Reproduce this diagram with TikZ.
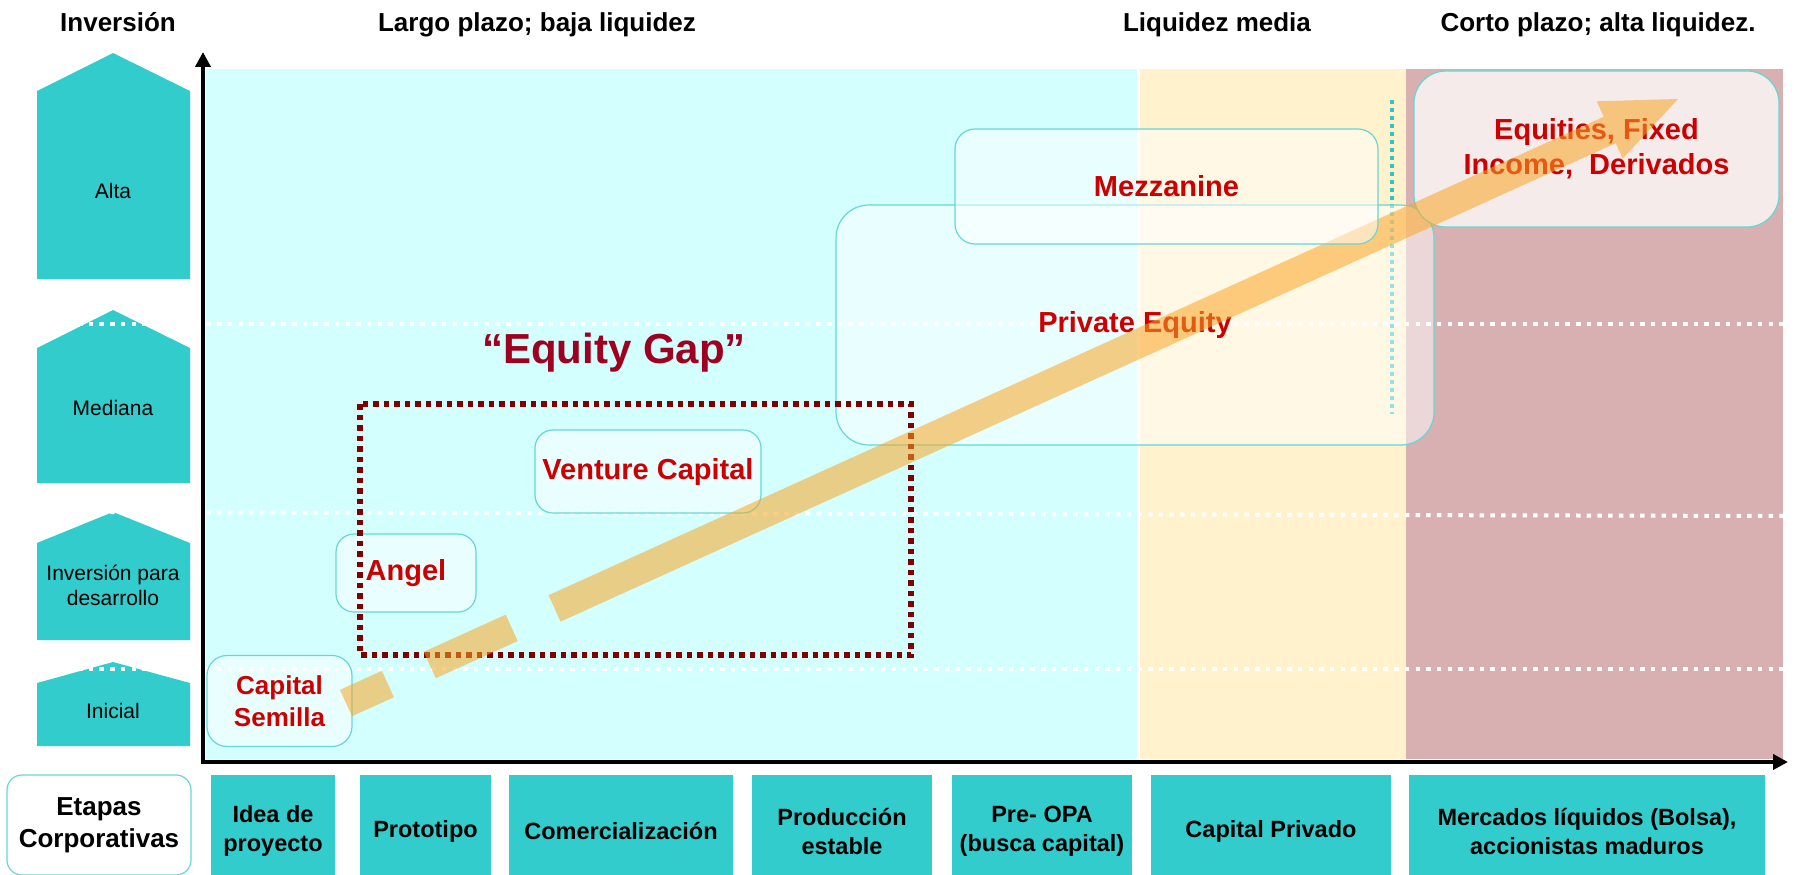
\documentclass[tikz,border=0pt]{standalone}
\usepackage{fontspec}
\setmainfont{Liberation Sans}
\usetikzlibrary{arrows.meta,calc}
\definecolor{ltcyan}{RGB}{212,255,255}
\definecolor{ltyellow}{RGB}{255,242,204}
\definecolor{ltrose}{RGB}{216,176,178}
\definecolor{stageteal}{RGB}{51,204,204}
\definecolor{dotteal}{RGB}{40,200,200}
\definecolor{boxline}{RGB}{102,214,214}
\definecolor{fundred}{RGB}{204,0,0}
\definecolor{gapred}{RGB}{160,0,32}
\definecolor{gapline}{RGB}{128,0,0}
\definecolor{floworange}{RGB}{250,165,35}

\begin{document}
\begin{tikzpicture}[x=1pt,y=-1pt,
  header/.style={font=\bfseries\fontsize{26}{30}\selectfont,anchor=base},
  level/.style={font=\fontsize{21}{25}\selectfont,align=center},
  stage/.style={fill=stageteal,align=center,inner sep=0pt,minimum height=112pt,
    font=\bfseries\fontsize{23.5}{29}\selectfont},
  fund/.style={draw=boxline,line width=1.2pt,fill=white,fill opacity=0.5,
    text opacity=1,text=fundred,align=center,inner sep=0pt,
    font=\bfseries\fontsize{29}{35}\selectfont},
  grid line/.style={draw=white,line width=4pt,dash pattern=on 4.5pt off 6.2pt},
  axis/.style={line width=4pt,-{Triangle[length=15pt,width=15pt]}},
  flow/.style={draw=floworange,opacity=0.55,line width=29pt,
    dash pattern=on 46pt off 46pt on 90pt off 47pt on 3000pt}
]
\useasboundingbox (0,0) rectangle (1794,875);

% liquidity bands
\fill[ltcyan] (206,69) rectangle (1137,759);
\fill[ltyellow] (1140,69) rectangle (1406,759);
\fill[ltrose] (1406,69) rectangle (1783,759);

% investment levels
\foreach \apex/\shoulder/\bottom in {53/91/279,310/348/483,512/543/640,662/683/746}
  \fill[stageteal] (113,\apex) -- (190,\shoulder) -- (190,\bottom) -- (37,\bottom)
    -- (37,\shoulder) -- cycle;
\node[level] (alta) at (113,191) {Alta};
\node[level] (mediana) at (113,408) {Mediana};
\node[level] (desarrollo) at (113,585) {Inversión para\\desarrollo};
\node[level] (inicial) at (113,711) {Inicial};

\draw[grid line] (78,324) -- (1794,324);
\draw[grid line] (78,512) -- (1794,516);
\draw[grid line] (78,669) -- (1794,669);
\draw[dotteal,line width=4.5pt,dash pattern=on 4pt off 4pt] (1392,100) -- (1392,414);

% headers
\node[header] (inversion) at (118,32) {Inversión};
\node[header] (largo) at (537,32) {Largo plazo; baja liquidez};
\node[header] (media) at (1217,32) {Liquidez media};
\node[header] (corto) at (1598,32) {Corto plazo; alta liquidez.};

% axes
\coordinate (origin) at (203,762);
\coordinate (ytop) at (203,52);
\coordinate (xend) at (1788,762);
\draw[axis] ([yshift=-2pt]origin) -- (ytop);
\draw[axis] ([xshift=-2pt]origin) -- (xend);

% funding sources
\node[fund,rounded corners=20pt,minimum width=145pt,minimum height=91pt,
  font=\bfseries\fontsize{26}{32}\selectfont] (seed) at (279.5,701) {Capital\\Semilla};
\node[fund,rounded corners=18pt,minimum width=140pt,minimum height=78pt] (angel) at (406,573) {Angel};
\node[fund,rounded corners=18pt,minimum width=226pt,minimum height=83pt] (vc) at (648,471.5) {Venture Capital};
\node[fund,rounded corners=33pt,minimum width=598pt,minimum height=240pt] (pe) at (1135,325) {Private Equity};
\node[fund,rounded corners=32pt,minimum width=365pt,minimum height=156pt,fill opacity=0.75]
  (equities) at (1596.5,149) {Equities, Fixed\\Income,~ Derivados};

\draw[gapline,line width=5.5pt,dash pattern=on 5.5pt off 5pt] (360,404) rectangle (911,655);
\node[anchor=base,text=gapred,font=\bfseries\fontsize{42}{48}\selectfont] (gap) at (614,363) {“Equity Gap”};

% growth path
\coordinate (flowstart) at (346,703);
\coordinate (flowtip) at (1678,99);
\coordinate (headbase) at ($(flowtip)!75pt!(flowstart)$);
\draw[flow] (flowstart) -- (headbase);
\fill[floworange,opacity=0.55] (flowtip) -- ($(headbase)!31.5pt!90:(flowtip)$)
  -- ($(headbase)!31.5pt!-90:(flowtip)$) -- cycle;

\node[fund,rounded corners=20pt,minimum width=423pt,minimum height=115pt] (mezz) at (1166.5,186.5) {Mezzanine};

% corporate stages
\node[draw=boxline,line width=1.2pt,rounded corners=15pt,minimum width=184pt,minimum height=100pt,
  align=center,font=\bfseries\fontsize{26}{32}\selectfont] (etapas) at (99,825) {Etapas\\Corporativas};
\node[stage,minimum width=124pt] (idea) at (273,831) {Idea de\\proyecto};
\node[stage,minimum width=131pt] (proto) at (425.5,831) {Prototipo};
\node[stage,minimum width=224pt] (comer) at (621,831) {Comercialización};
\node[stage,minimum width=180pt] (prod) at (842,831) {Producción\\estable};
\node[stage,minimum width=180pt] (preopa) at (1042,831) {Pre- OPA\\(busca capital)};
\node[stage,minimum width=240pt] (privado) at (1271,831) {Capital Privado};
\node[stage,minimum width=356pt] (mercados) at (1587,831) {Mercados líquidos (Bolsa),\\accionistas maduros};
\end{tikzpicture}
\end{document}
